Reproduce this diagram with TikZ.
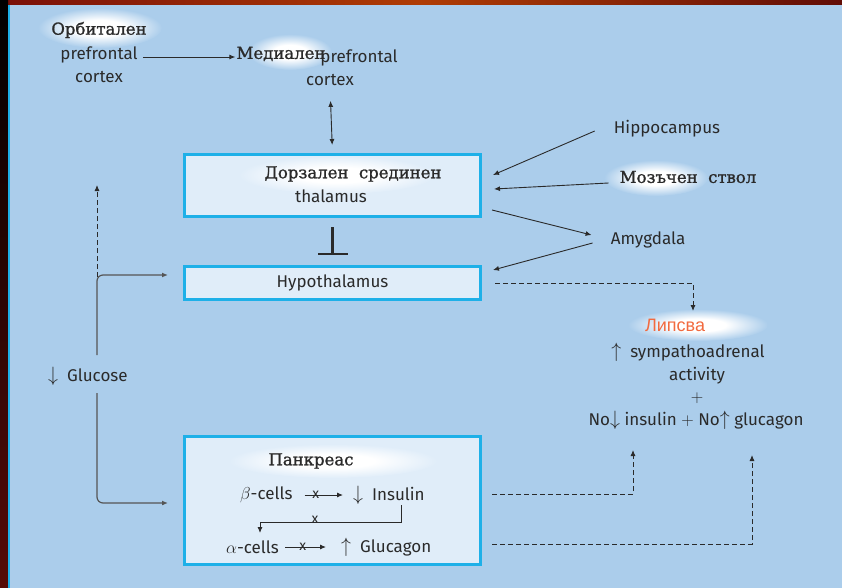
\documentclass[tikz,border=0pt]{standalone}
\usepackage{graphicx}
\usepackage{fontspec}
\setmainfont{Fira Sans}
\newfontfamily\cyrf{DejaVu Serif}[FakeBold=1.2]
\newfontfamily\lipsf{Liberation Sans}
\usetikzlibrary{arrows.meta}

\definecolor{fon}{HTML}{ABCDEB}
\definecolor{kutija}{HTML}{E0EDF9}
\definecolor{rab}{HTML}{1EB0E8}
\definecolor{tekst}{HTML}{2A2A2A}
\definecolor{lipsva}{HTML}{F26A3F}
\definecolor{tamnocrv}{HTML}{7A1008}
\pgfdeclareradialshading{sjaj}{\pgfpoint{0bp}{0bp}}{color(0bp)=(white); color(10bp)=(white); color(25bp)=(fon); color(50bp)=(fon)}
\pgfdeclareradialshading{sjajk}{\pgfpoint{0bp}{0bp}}{color(0bp)=(white); color(10bp)=(white); color(25bp)=(kutija); color(50bp)=(kutija)}
\newcommand{\gore}{\scalebox{1.15}[1.2]{$\uparrow$}}
\newcommand{\dolu}{\scalebox{1.15}[1.2]{$\downarrow$}}

\begin{document}
\begin{tikzpicture}[x=1pt, y=-1pt,
  every node/.style={text=tekst, font=\fontsize{17}{20}\selectfont, inner sep=1pt},
  cyr/.style={font=\cyrf\fontsize{16.5}{20}\selectfont},
  box/.style={draw=rab, fill=kutija, line width=3pt, minimum width=296pt, inner sep=0pt},
  arr/.style={draw=tekst, line width=0.9pt, -{Latex[length=6pt,width=5pt]}},
  darr/.style={arr, dash pattern=on 5pt off 3pt},
  xm/.style={inner sep=0pt, font=\fontsize{14}{14}\selectfont},
  sjajst/.style={shading=sjaj},
  sjajkst/.style={shading=sjajk}
  ]
%\draw [help lines] (0,0) grid [step=50pt] (842,588);
\useasboundingbox (0,0) rectangle (842,588);
\fill [fon] (0,0) rectangle (842,588);
\shade [left color=tamnocrv, right color=tamnocrv!80!black, middle color=tamnocrv!60!orange] (0,0) rectangle (842,5);
\shade [top color=black, bottom color=tamnocrv!70!black] (0,0) rectangle (8,588);
\fill [rab] (8,5) rectangle (10,588);

% kutii
\node [box, minimum height=62pt] (thal) at (332.5,185.5) {};
\node [box, minimum height=33pt] (hypo) at (332.5,283) {Hypothalamus};
\node [box, minimum height=128pt] (panc) at (332.5,500.5) {};

%  sjaj pod bukvite:
\path [sjajst] (100,28) ellipse (62pt and 20pt);
\path [sjajst] (290,52) ellipse (42pt and 18pt);
\path [sjajkst] (337,175) ellipse (98pt and 19pt);
\path [sjajst] (656,178) ellipse (52pt and 18pt);
\path [sjajst] (698,325) ellipse (70pt and 16pt);
\path [sjajkst] (333,461) ellipse (104pt and 17pt);

% prefrontal
\node [cyr] (orbA) at (99,30) {Орбитален};
\node (orbB) at (99,55) {prefrontal};
\node (orbC) at (99,77) {cortex};
\node [cyr] (medA) at (281,54) {Медиален};
\node (medB) at (359,58) {prefrontal};
\node (medC) at (330,80) {cortex};
\draw [arr] ([xshift=4pt,yshift=-2pt]orbB.east) -- ([yshift=-3pt]medA.west);
\draw [arr, {Latex[length=6pt,width=5pt]}-{Latex[length=6pt,width=5pt]}, shorten <=14pt, shorten >=8pt] (medC.south) -- (thal.north);

% thalamus
\node [cyr] (thA) at (353,174) {Дорзален\ \ срединен};
\node (thB) at (331,196) {thalamus};
\draw [line width=2.5pt, draw=tekst, -{Bar[width=30pt]}, shorten <=9pt, shorten >=10pt] (thal.south) -- (hypo.north);

% desno
\node (hip) at (667,129) {Hippocampus};
\node [cyr] (moz) at (688,177) {Мозъчен\ \ ствол};
\node (amy) at (648,240) {Amygdala};
\coordinate (thHip) at (493,175);
\coordinate (thMoz) at (494,189);
\coordinate (thAmy) at (492,210);
\coordinate (hyAmy) at (493,270);
\draw [arr] ([xshift=-18pt,yshift=-2pt]hip.west) -- (thHip);
\draw [arr] ([xshift=-10pt,yshift=-6pt]moz.west) -- (thMoz);
\draw [arr] (thAmy) -- ([xshift=-18pt,yshift=5pt]amy.west);
\draw [arr] ([xshift=-17pt,yshift=-3pt]amy.west) -- (hyAmy);

% rezultat
\node [font=\lipsf\fontsize{18}{20}\selectfont, text=lipsva] (lip) at (675,325) {Липсва};
\node (sym) at (688,352) {\gore\ \ sympathoadrenal};
\node (act) at (697,376) {activity};
\node (plus) at (697,398) {$+$};
\node (nos) at (696,420) {No\dolu\ insulin $+$ No\gore\ glucagon};
\coordinate (symIn) at (693,311);
\coordinate (nosL) at (633,450);
\coordinate (nosR) at (752,455);
\draw [darr] ([xshift=13pt]hypo.east) -| (symIn);
\draw [darr] ([xshift=10pt,yshift=6.5pt]panc.east) -| (nosL);
\draw [darr] ([xshift=10pt,yshift=-43.5pt]panc.east) -| (nosR);

% pankreas
\node [cyr] (pan) at (311,461) {Панкреас};
\node [anchor=west] (beta) at (239,495) {$\beta$-cells};
\node [anchor=west] (ins) at (352,495) {\dolu\ \ Insulin};
\node [anchor=west] (alfa) at (225,547) {$\alpha$-cells};
\node [anchor=west] (glu) at (340,547) {\gore\ \ Glucagon};
\draw [arr, shorten <=11pt, shorten >=9pt] (beta.east) -- node [pos=0.38, xm] {x} (ins.west);
\draw [arr, shorten <=5pt, shorten >=14pt] (alfa.east) -- node [pos=0.38, xm] {x} (glu.west);
\coordinate (brTop) at (401,505);
\coordinate (brEnd) at (260,533);
\draw [arr] (brTop) -- (401,522) -| (brEnd);
\node [xm] (xb) at (315,520) {x};

% glukoza
\node [anchor=west] (glc) at (47,376) {\dolu\ \ Glucose};
\coordinate (gUp) at (97,355);
\coordinate (gDn) at (97,393);
\coordinate (gKnee) at (97,277);
\coordinate (thUp) at (97,185);
\coordinate (hyIn) at (168,275);
\coordinate (paIn) at (168,503);
\draw [arr, draw=tekst!80, line width=1.2pt, rounded corners=6pt] (gUp) |- (hyIn);
\draw [arr, draw=tekst!80, line width=1.2pt, rounded corners=6pt] (gDn) |- (paIn);
\draw [darr] (gKnee) -- (thUp);

\end{tikzpicture}
\end{document}
